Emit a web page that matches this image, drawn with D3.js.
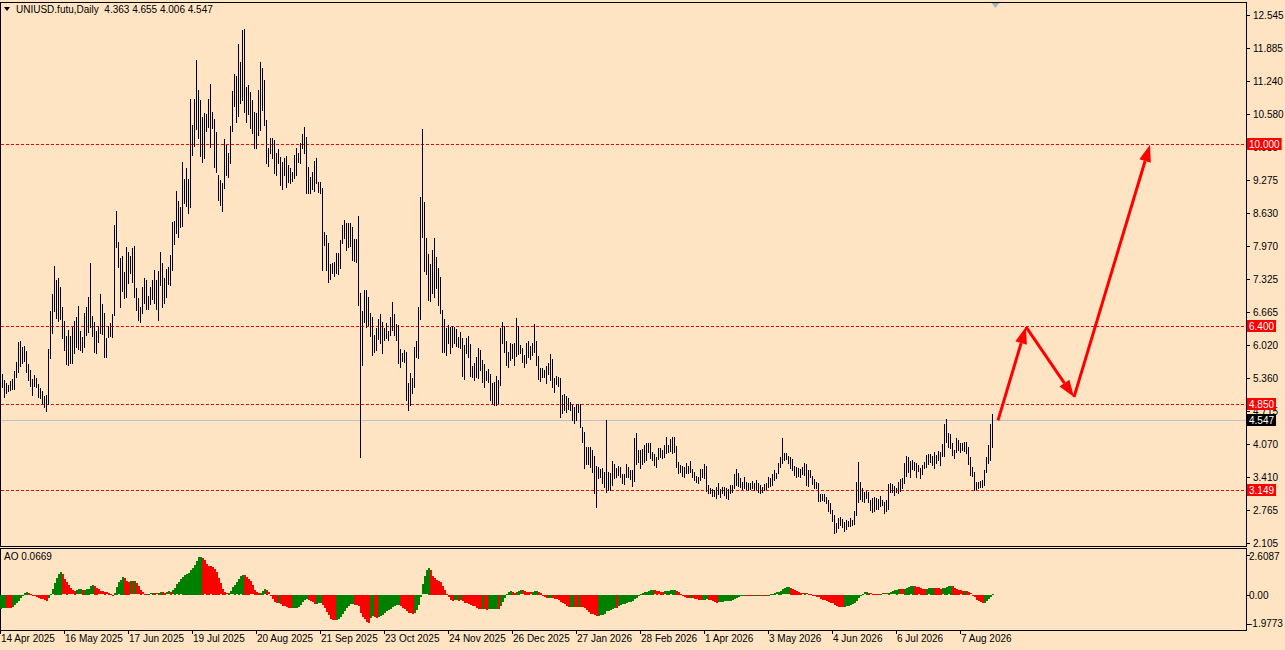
<!DOCTYPE html>
<html>
<head>
<meta charset="utf-8">
<script src="https://cdn.jsdelivr.net/npm/d3@7"></script>
<style>
html, body { margin: 0; padding: 0; background: #ffe4c4; }
svg { display: block; font-family: "Liberation Sans", Arial, sans-serif; font-size: 10px; }
</style>
</head>
<body>
<svg id="chart" width="1285" height="650"></svg>
<script>
// daily bars, first one on 14 Apr 2025, one bar per calendar day
var startDate = "2025-04-14";

var highs = [
  5.64,5.45,5.33,5.27,5.23,5.31,5.35,5.51,5.68,6.08,
  6.10,5.98,6.00,5.90,5.64,5.53,5.35,5.43,5.37,5.25,
  5.17,5.11,5.01,5.03,5.94,6.69,7.03,7.58,7.31,7.35,
  7.17,6.77,6.49,6.20,6.32,6.20,6.38,6.49,6.57,6.79,
  6.30,6.18,6.65,6.77,6.97,7.64,6.59,6.47,6.30,6.40,
  7.03,6.83,6.65,6.16,6.40,6.46,6.63,8.39,8.67,8.06,
  7.74,7.78,7.46,7.96,7.86,7.78,7.94,7.98,7.15,6.95,
  6.77,7.17,7.35,7.31,6.99,7.17,7.31,7.50,7.31,7.48,
  7.86,7.64,7.35,7.52,7.56,7.80,8.45,8.47,9.07,8.87,
  8.75,9.64,9.30,9.52,9.30,10.88,10.37,10.88,11.66,11.06,
  10.87,10.53,10.61,10.59,10.88,11.18,10.63,10.49,10.23,9.38,
  9.28,9.22,10.09,9.98,9.82,10.35,11.04,11.38,11.34,11.97,
  11.62,12.25,12.27,11.12,11.16,11.02,10.87,10.63,10.61,11.06,
  11.62,11.50,11.26,10.47,9.92,10.11,10.11,10.07,9.82,9.90,
  9.74,9.64,9.72,9.76,9.58,9.52,9.44,9.78,9.92,9.82,
  10.01,10.19,10.33,10.13,9.54,9.34,9.44,9.66,9.72,9.24,
  9.24,9.12,8.25,8.19,8.04,7.62,7.64,7.66,7.84,7.84,
  8.10,8.39,8.49,8.43,8.43,8.43,8.35,8.12,8.12,8.57,
  7.05,6.69,7.11,7.11,6.97,6.65,6.57,6.22,6.36,6.53,
  6.63,6.47,6.36,6.46,6.30,6.57,6.87,6.63,6.44,6.42,
  5.94,5.86,5.92,5.88,5.27,5.47,5.37,5.98,6.10,6.77,
  8.95,10.29,8.85,8.14,7.82,7.62,7.90,8.14,7.76,7.54,
  7.37,6.71,6.53,6.36,6.42,6.38,6.40,6.38,6.34,6.18,
  6.28,6.16,6.02,6.16,6.20,6.04,5.61,5.66,5.78,5.96,
  5.92,5.72,5.64,5.51,5.55,5.45,5.27,5.29,5.41,5.33,
  6.36,6.47,6.40,6.10,5.88,6.06,6.04,6.06,6.55,6.40,
  6.02,5.96,5.82,6.06,6.10,6.00,6.06,6.44,6.10,5.80,
  5.57,5.57,5.53,5.61,5.66,5.84,5.74,5.37,5.41,5.39,
  5.37,5.03,5.05,5.01,4.97,4.89,4.83,4.79,4.85,4.85,
  4.85,4.40,4.30,4.00,4.00,4.00,3.94,3.83,3.63,3.61,
  3.57,3.59,3.51,4.54,3.51,3.49,3.73,3.67,3.59,3.63,
  3.61,3.47,3.47,3.67,3.61,3.55,3.55,4.18,4.28,3.94,
  3.94,3.96,4.04,4.08,4.08,4.08,3.90,3.86,3.81,3.98,
  3.98,3.94,4.04,4.20,4.04,4.16,4.20,4.20,4.02,3.71,
  3.65,3.63,3.61,3.69,3.63,3.73,3.57,3.51,3.43,3.41,
  3.57,3.57,3.67,3.63,3.25,3.19,3.17,3.15,3.21,3.29,
  3.17,3.21,3.21,3.19,3.17,3.25,3.25,3.47,3.57,3.49,
  3.39,3.31,3.41,3.31,3.29,3.29,3.33,3.29,3.35,3.29,
  3.25,3.21,3.27,3.29,3.41,3.39,3.47,3.55,3.49,3.69,
  3.81,4.18,3.88,3.88,3.83,3.81,3.77,3.63,3.61,3.59,
  3.57,3.61,3.69,3.67,3.55,3.55,3.43,3.37,3.31,3.29,
  3.07,3.07,3.07,3.01,2.96,2.90,2.76,2.66,2.50,2.60,
  2.62,2.58,2.52,2.56,2.54,2.60,2.56,2.74,3.31,3.71,
  3.31,3.19,3.11,3.13,3.11,2.96,2.99,3.01,2.99,2.98,
  3.03,2.96,2.92,2.96,3.27,3.29,3.27,3.23,3.19,3.31,
  3.37,3.39,3.69,3.83,3.81,3.73,3.75,3.71,3.69,3.65,
  3.59,3.65,3.71,3.85,3.86,3.86,3.83,3.90,3.85,3.92,
  3.90,4.06,4.46,4.56,4.28,4.26,4.08,3.94,4.18,4.14,
  4.08,4.08,4.10,4.10,4.00,3.81,3.61,3.51,3.31,3.31,
  3.33,3.35,3.55,3.81,4.04,4.46,4.655
];

var lows = [
  5.23,5.19,4.99,5.07,5.11,5.13,5.15,5.15,5.39,5.49,
  5.61,5.66,5.70,5.49,5.33,5.21,5.03,5.21,5.19,4.99,
  4.97,4.87,4.79,4.72,4.85,5.76,6.26,6.69,6.55,6.49,
  6.53,6.16,5.92,5.64,5.62,5.66,5.66,5.86,5.98,5.94,
  5.92,5.88,5.98,6.22,6.28,6.38,6.20,5.88,5.86,6.08,
  6.26,6.24,5.78,5.78,6.18,6.20,6.18,6.61,7.96,7.56,
  6.77,7.09,6.95,6.97,7.25,7.44,7.27,6.97,6.71,6.51,
  6.47,6.65,6.85,6.73,6.73,6.83,6.93,6.85,6.73,6.51,
  7.21,6.77,6.85,6.97,7.23,7.21,7.50,8.02,8.23,8.16,
  8.35,8.37,8.83,8.77,8.63,8.75,9.78,9.96,10.29,10.11,
  9.76,9.64,9.72,10.25,10.33,9.94,10.31,9.54,9.44,8.89,
  8.79,8.67,9.12,9.38,9.34,9.62,10.25,10.75,10.43,10.55,
  10.81,10.87,10.63,10.43,10.59,10.31,10.21,9.92,9.92,10.17,
  10.27,10.67,10.37,9.62,9.56,9.82,9.72,9.42,9.38,9.62,
  9.18,9.10,9.38,9.14,9.24,9.22,9.26,9.32,9.38,9.64,
  9.62,9.92,9.82,9.03,9.03,9.03,9.10,9.07,9.22,9.05,
  9.03,7.50,7.99,7.50,7.27,7.33,7.44,7.38,7.44,7.42,
  7.54,8.04,8.14,7.90,7.96,7.98,7.70,7.68,7.66,6.81,
  3.81,5.63,6.47,6.38,6.42,6.20,5.82,5.88,5.92,6.14,
  6.06,5.86,6.12,6.16,6.12,6.22,6.32,6.22,6.12,5.66,
  5.59,5.70,5.68,4.93,4.74,4.83,5.07,5.19,5.78,5.76,
  6.53,8.16,7.48,7.42,6.91,6.89,7.05,6.97,7.15,6.81,
  6.65,5.88,5.88,5.82,6.06,5.86,5.98,6.06,6.00,5.98,
  5.96,5.41,5.35,5.86,5.78,5.41,5.39,5.33,5.39,5.37,
  5.53,5.29,5.19,5.33,5.29,4.93,4.87,4.83,4.83,4.87,
  5.23,6.06,5.88,5.62,5.59,5.72,5.76,5.62,5.80,5.84,
  5.86,5.68,5.59,5.66,5.78,5.74,5.82,5.88,5.62,5.35,
  5.31,5.39,5.39,5.27,5.45,5.33,5.19,5.09,5.25,5.21,
  4.60,4.68,4.74,4.70,4.75,4.74,4.54,4.48,4.54,4.70,
  4.40,4.10,3.59,3.67,3.67,3.61,3.51,3.09,2.82,3.39,
  3.41,3.29,3.21,3.11,3.15,3.15,3.25,3.39,3.41,3.45,
  3.41,3.29,3.27,3.41,3.41,3.37,3.23,3.33,3.67,3.71,
  3.59,3.67,3.71,3.75,3.90,3.79,3.75,3.65,3.61,3.77,
  3.81,3.79,3.81,3.88,3.90,3.92,3.88,3.90,3.61,3.49,
  3.51,3.43,3.41,3.49,3.49,3.51,3.41,3.35,3.31,3.29,
  3.35,3.41,3.39,3.13,3.09,3.09,3.03,3.03,2.99,3.07,
  3.01,3.09,3.05,2.99,2.97,3.09,3.11,3.19,3.25,3.23,
  3.21,3.17,3.19,3.17,3.15,3.17,3.19,3.15,3.17,3.11,
  3.09,3.11,3.15,3.17,3.21,3.23,3.25,3.35,3.39,3.49,
  3.61,3.69,3.75,3.77,3.69,3.59,3.55,3.45,3.41,3.43,
  3.41,3.47,3.45,3.25,3.23,3.41,3.27,3.19,3.19,2.94,
  2.94,2.96,2.94,2.90,2.74,2.70,2.54,2.30,2.32,2.40,
  2.46,2.42,2.34,2.38,2.44,2.44,2.46,2.48,2.66,2.92,
  2.98,2.94,2.92,2.99,2.92,2.76,2.72,2.74,2.78,2.78,
  2.84,2.86,2.70,2.74,2.78,3.11,3.11,3.05,3.11,3.09,
  3.13,3.19,3.29,3.43,3.51,3.41,3.57,3.55,3.41,3.53,
  3.39,3.47,3.59,3.61,3.67,3.71,3.65,3.59,3.69,3.75,
  3.65,3.83,3.83,4.10,4.00,3.98,3.85,3.79,3.90,3.94,
  3.90,3.94,3.92,3.88,3.67,3.45,3.43,3.15,3.17,3.19,
  3.21,3.21,3.25,3.51,3.69,3.75,4.006
];

// AO values of the first 33 bars (its history starts before the visible window)
var aoLead = [
  -0.85,-0.82,-0.80,-0.81,-0.82,-0.82,-0.77,-0.65,-0.50,-0.35,
  -0.19,-0.04,0.10,0.19,0.13,0.06,0.00,-0.06,-0.13,-0.19,
  -0.23,-0.27,-0.31,-0.38,-0.19,0.02,0.33,0.75,1.06,1.31,
  1.44,1.27,0.96
];

var priceTicks = ["12.545","11.885","11.240","10.580","9.935","9.275","8.630","7.970",
                  "7.325","6.665","6.020","5.360","4.715","4.070","3.410","2.765","2.105"];
var levels = ["10.000","6.400","4.850","3.149"];
var lastPrice = "4.547";
var dateTicks = ["2025-04-14","2025-05-16","2025-06-17","2025-07-19","2025-08-20","2025-09-21",
                 "2025-10-23","2025-11-24","2025-12-26","2026-01-27","2026-02-28","2026-04-01",
                 "2026-05-03","2026-06-04","2026-07-06","2026-08-07"];
var aoTicks = ["2.6087","0.00","-1.9773"];
var arrowDates = ["2026-08-26","2026-09-09","2026-10-03","2026-11-10"];
var arrowPrices = [4.53, 6.38, 4.99, 9.98];
var header = "UNIUSD.futu,Daily  4.363 4.655 4.006 4.547";
var aoHeader = "AO 0.0669";

var pane = { left: 0, right: 1246, top: 2, bottom: 546 };
var aoPane = { top: 548, bottom: 630 };

var parse = d3.utcParse("%Y-%m-%d");
var fmt = d3.utcFormat("%-d %b %Y");
var start = parse(startDate);

var x = d3.scaleUtc()
    .domain([start, d3.utcDay.offset(start, 623)])
    .range([pane.left, pane.right]);
var y = d3.scaleLinear().domain([2.046, 12.802]).range([pane.bottom, pane.top]);
var yAo = d3.scaleLinear().domain([-1.9773, 2.6087]).range([626.3, 553]);

var bars = highs.map(function (h, i) {
    return { date: d3.utcDay.offset(start, i), high: h, low: lows[i] };
});

// awesome oscillator: sma5 - sma34 of median price
bars.forEach(function (d, i) {
    if (i < 33) { d.ao = aoLead[i]; return; }
    var s5 = 0, s34 = 0;
    for (var k = i - 33; k <= i; k++) {
        var m = (bars[k].high + bars[k].low) / 2;
        s34 += m;
        if (k > i - 5) s5 += m;
    }
    d.ao = s5 / 5 - s34 / 34;
});

var svg = d3.select("#chart");

function px(v) { return Math.round(v) + 0.5; }

// frames
svg.append("rect")
   .attr("x", 0.5).attr("y", pane.top + 0.5)
   .attr("width", pane.right).attr("height", pane.bottom - pane.top)
   .attr("fill", "none").attr("stroke", "#000");
svg.append("rect")
   .attr("x", 0.5).attr("y", aoPane.top + 0.5)
   .attr("width", pane.right).attr("height", aoPane.bottom - aoPane.top)
   .attr("fill", "none").attr("stroke", "#000");

// current price line
svg.append("line")
   .attr("x1", 1).attr("x2", pane.right)
   .attr("y1", px(y(+lastPrice))).attr("y2", px(y(+lastPrice)))
   .attr("stroke", "#c0c0c0");

// horizontal levels
svg.selectAll("line.level")
   .data(levels)
   .enter()
   .append("line")
   .attr("class", "level")
   .attr("x1", 1).attr("x2", pane.right)
   .attr("y1", function (d) { return px(y(+d)); })
   .attr("y2", function (d) { return px(y(+d)); })
   .attr("stroke", "#ff0000")
   .attr("stroke-dasharray", "3,2");

// price bars
svg.selectAll("line.bar")
   .data(bars)
   .enter()
   .append("line")
   .attr("class", "bar")
   .attr("x1", function (d) { return px(x(d.date)); })
   .attr("x2", function (d) { return px(x(d.date)); })
   .attr("y1", function (d) { return Math.round(y(d.high)); })
   .attr("y2", function (d) { return Math.round(y(d.low)) + 1; })
   .attr("stroke", "#000")
   .attr("stroke-width", 1);

// AO histogram
svg.selectAll("rect.ao")
   .data(bars)
   .enter()
   .append("rect")
   .attr("class", "ao")
   .attr("x", function (d) { return Math.round(x(d.date)); })
   .attr("width", 2)
   .attr("y", function (d) { return Math.round(Math.min(yAo(d.ao), yAo(0))); })
   .attr("height", function (d) { return Math.max(1, Math.round(Math.abs(yAo(d.ao) - yAo(0)))); })
   .attr("fill", function (d, i) {
       if (i == 0) return "#008000";
       return d.ao > bars[i - 1].ao ? "#008000" : "#ff0000";
   });

// arrows
var pts = arrowDates.map(function (d, i) {
    return [x(parse(d)), y(arrowPrices[i])];
});
for (var i = 0; i < pts.length - 1; i++) {
    var a = pts[i], b = pts[i + 1];
    var ang = Math.atan2(b[1] - a[1], b[0] - a[0]);
    var head = 17, half = 6;
    var bx = b[0] - head * Math.cos(ang), by = b[1] - head * Math.sin(ang);
    svg.append("line")
       .attr("x1", a[0]).attr("y1", a[1])
       .attr("x2", bx).attr("y2", by)
       .attr("stroke", "#ff0000").attr("stroke-width", 3);
    svg.append("polygon")
       .attr("points", [
           [b[0], b[1]],
           [bx + half * Math.sin(ang), by - half * Math.cos(ang)],
           [bx - half * Math.sin(ang), by + half * Math.cos(ang)]
       ].map(function (p) { return p.join(","); }).join(" "))
       .attr("fill", "#ff0000");
}

// shift marker at the top
var sx = px(x(bars[bars.length - 1].date)) + 3;
svg.append("polygon")
   .attr("points", [[sx - 4, pane.top + 1], [sx + 4, pane.top + 1], [sx, pane.top + 6]]
         .map(function (p) { return p.join(","); }).join(" "))
   .attr("fill", "#a9b1c4");

// price axis
var ax = svg.append("g");
ax.selectAll("line.tick")
  .data(priceTicks)
  .enter()
  .append("line")
  .attr("x1", pane.right).attr("x2", pane.right + 4)
  .attr("y1", function (d) { return px(y(+d)); })
  .attr("y2", function (d) { return px(y(+d)); })
  .attr("stroke", "#000");
ax.selectAll("text.tick")
  .data(priceTicks)
  .enter()
  .append("text")
  .attr("x", pane.right + 7)
  .attr("y", function (d) { return y(+d) + 4; })
  .attr("fill", "#000")
  .text(function (d) { return d; });

function tag(value, bg) {
    var g = svg.append("g");
    var r = g.append("rect");
    var t = g.append("text")
        .attr("x", pane.right + 3)
        .attr("y", y(+value) + 4)
        .attr("fill", "#fff")
        .text(value);
    var w = t.node().getComputedTextLength();
    r.attr("x", pane.right + 1).attr("y", Math.round(y(+value)) - 6)
     .attr("width", w + 4).attr("height", 12)
     .attr("fill", bg);
}
levels.forEach(function (d) { tag(d, "#ff0000"); });
tag(lastPrice, "#000");

// AO axis
aoTicks.forEach(function (d, i) {
    var ty = yAo(+d);
    svg.append("line")
       .attr("x1", pane.right).attr("x2", pane.right + 4)
       .attr("y1", px(ty + [2, 0, -2][i])).attr("y2", px(ty + [2, 0, -2][i]))
       .attr("stroke", "#000");
    svg.append("text")
       .attr("x", pane.right + 3)
       .attr("y", ty + [7, 4, 1][i])
       .attr("fill", "#000")
       .text(d);
});

// time axis
svg.selectAll("line.dtick")
   .data(dateTicks)
   .enter()
   .append("line")
   .attr("x1", function (d) { return px(x(parse(d))); })
   .attr("x2", function (d) { return px(x(parse(d))); })
   .attr("y1", aoPane.bottom).attr("y2", aoPane.bottom + 4)
   .attr("stroke", "#000");
svg.selectAll("text.dtick")
   .data(dateTicks)
   .enter()
   .append("text")
   .attr("x", function (d) { return Math.round(x(parse(d))) + 1; })
   .attr("y", 642)
   .attr("fill", "#000")
   .text(function (d) { return fmt(parse(d)); });

// headers
svg.append("polygon").attr("points", "4,7 10,7 7,11").attr("fill", "#000");
svg.append("text")
   .attr("x", 16).attr("y", 13)
   .attr("fill", "#000")
   .style("white-space", "pre")
   .text(header);
svg.append("text")
   .attr("x", 4).attr("y", 560)
   .attr("fill", "#000")
   .text(aoHeader);
</script>
</body>
</html>
